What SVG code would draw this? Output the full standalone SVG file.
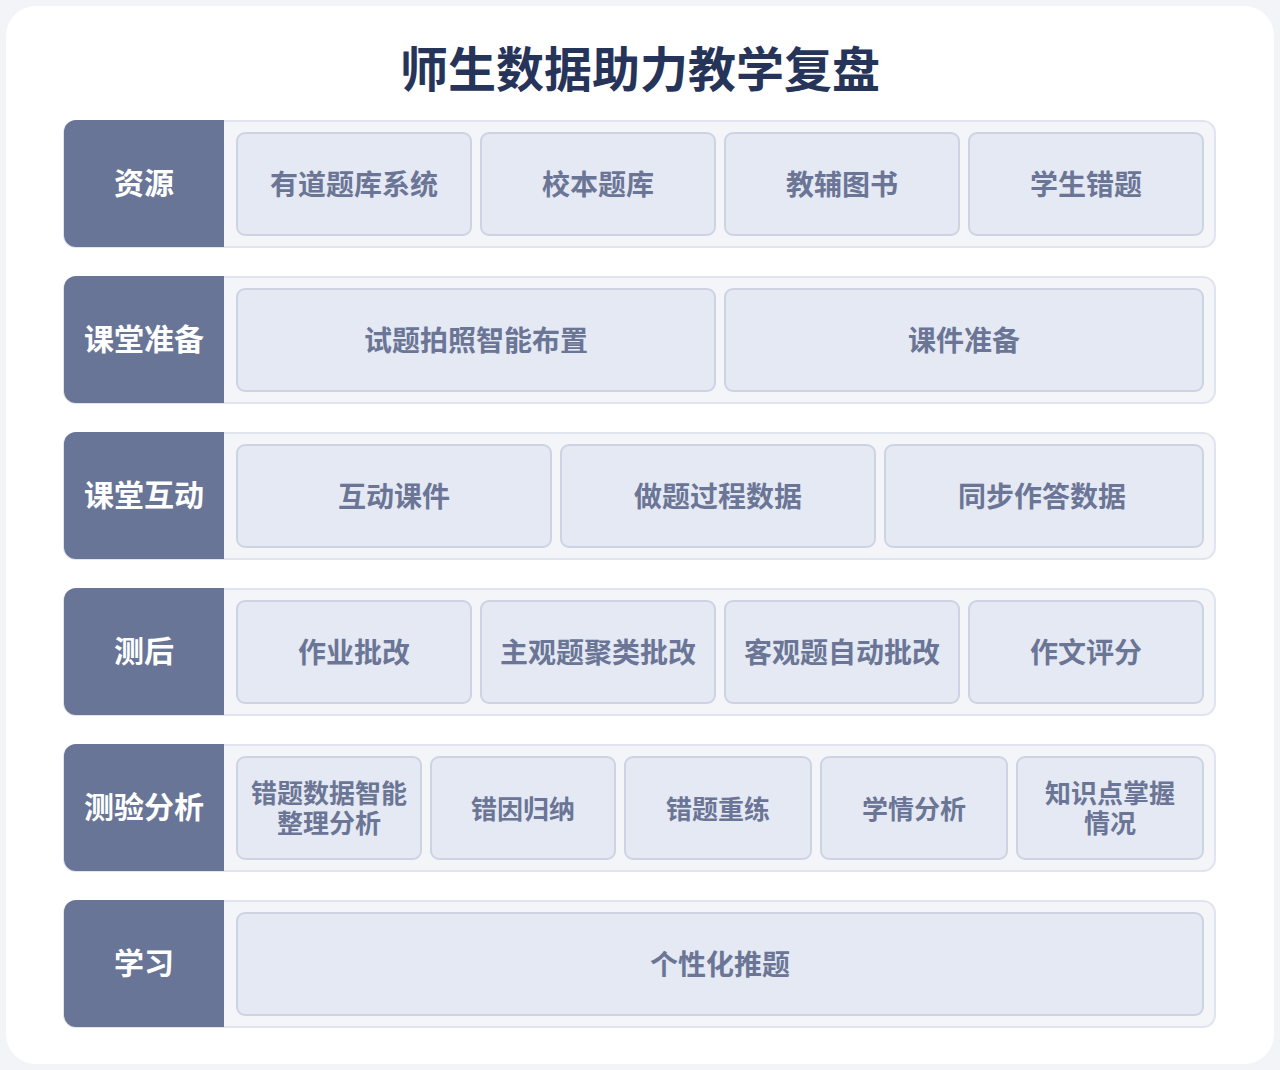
<svg xmlns="http://www.w3.org/2000/svg" width="1280" height="1070" viewBox="0 0 1280 1070">
<style>
text{font-family:"Noto Sans CJK SC","Noto Sans",sans-serif;font-weight:700;text-anchor:middle;dominant-baseline:central}
.row{fill:#f4f5f9;stroke:#e0e4ee;stroke-width:2}
.lab{fill:#687596}
.lt{fill:#ffffff;font-size:30px}
.item{fill:#e5e9f4;stroke:#cdd3e3;stroke-width:2}
.it{fill:#6b7595;font-size:28px}
.it2{fill:#6b7595;font-size:26px}
</style>
<rect x="0" y="0" width="1280" height="1070" fill="#f3f4f8"/>
<rect x="6" y="6" width="1268" height="1058" rx="30" fill="#ffffff"/>
<text x="640" y="66" font-size="48" fill="#27345a">师生数据助力教学复盘</text>
<g id="row1">
<rect class="row" x="64" y="121" width="1151" height="126" rx="12"/>
<path class="lab" d="M76 120H224V247H76A12 12 0 0 1 64 235V132A12 12 0 0 1 76 120Z"/>
<text class="lt" x="144" y="181">资源</text>
<rect class="item" x="237" y="133" width="234" height="102" rx="8"/><text class="it" x="354" y="183">有道题库系统</text>
<rect class="item" x="481" y="133" width="234" height="102" rx="8"/><text class="it" x="598" y="183">校本题库</text>
<rect class="item" x="725" y="133" width="234" height="102" rx="8"/><text class="it" x="842" y="183">教辅图书</text>
<rect class="item" x="969" y="133" width="234" height="102" rx="8"/><text class="it" x="1086" y="183">学生错题</text>
</g>
<g id="row2">
<rect class="row" x="64" y="277" width="1151" height="126" rx="12"/>
<path class="lab" d="M76 276H224V403H76A12 12 0 0 1 64 391V288A12 12 0 0 1 76 276Z"/>
<text class="lt" x="144" y="337">课堂准备</text>
<rect class="item" x="237" y="289" width="478" height="102" rx="8"/><text class="it" x="476" y="339">试题拍照智能布置</text>
<rect class="item" x="725" y="289" width="478" height="102" rx="8"/><text class="it" x="964" y="339">课件准备</text>
</g>
<g id="row3">
<rect class="row" x="64" y="433" width="1151" height="126" rx="12"/>
<path class="lab" d="M76 432H224V559H76A12 12 0 0 1 64 547V444A12 12 0 0 1 76 432Z"/>
<text class="lt" x="144" y="493">课堂互动</text>
<rect class="item" x="237" y="445" width="314" height="102" rx="8"/><text class="it" x="394" y="495">互动课件</text>
<rect class="item" x="561" y="445" width="314" height="102" rx="8"/><text class="it" x="718" y="495">做题过程数据</text>
<rect class="item" x="885" y="445" width="318" height="102" rx="8"/><text class="it" x="1042" y="495">同步作答数据</text>
</g>
<g id="row4">
<rect class="row" x="64" y="589" width="1151" height="126" rx="12"/>
<path class="lab" d="M76 588H224V715H76A12 12 0 0 1 64 703V600A12 12 0 0 1 76 588Z"/>
<text class="lt" x="144" y="649">测后</text>
<rect class="item" x="237" y="601" width="234" height="102" rx="8"/><text class="it" x="354" y="651">作业批改</text>
<rect class="item" x="481" y="601" width="234" height="102" rx="8"/><text class="it" x="598" y="651">主观题聚类批改</text>
<rect class="item" x="725" y="601" width="234" height="102" rx="8"/><text class="it" x="842" y="651">客观题自动批改</text>
<rect class="item" x="969" y="601" width="234" height="102" rx="8"/><text class="it" x="1086" y="651">作文评分</text>
</g>
<g id="row5">
<rect class="row" x="64" y="745" width="1151" height="126" rx="12"/>
<path class="lab" d="M76 744H224V871H76A12 12 0 0 1 64 859V756A12 12 0 0 1 76 744Z"/>
<text class="lt" x="144" y="805">测验分析</text>
<rect class="item" x="237" y="757" width="184" height="102" rx="8"/><text class="it2"><tspan x="329" y="791">错题数据智能</tspan><tspan x="329" y="821">整理分析</tspan></text>
<rect class="item" x="431" y="757" width="184" height="102" rx="8"/><text class="it2" x="523" y="807">错因归纳</text>
<rect class="item" x="625" y="757" width="186" height="102" rx="8"/><text class="it2" x="718" y="807">错题重练</text>
<rect class="item" x="821" y="757" width="186" height="102" rx="8"/><text class="it2" x="914" y="807">学情分析</text>
<rect class="item" x="1017" y="757" width="186" height="102" rx="8"/><text class="it2"><tspan x="1110" y="791">知识点掌握</tspan><tspan x="1110" y="821">情况</tspan></text>
</g>
<g id="row6">
<rect class="row" x="64" y="901" width="1151" height="126" rx="12"/>
<path class="lab" d="M76 900H224V1027H76A12 12 0 0 1 64 1015V912A12 12 0 0 1 76 900Z"/>
<text class="lt" x="144" y="961">学习</text>
<rect class="item" x="237" y="913" width="966" height="102" rx="8"/><text class="it" x="720" y="963">个性化推题</text>
</g>
<g id="connectors"/>
</svg>
